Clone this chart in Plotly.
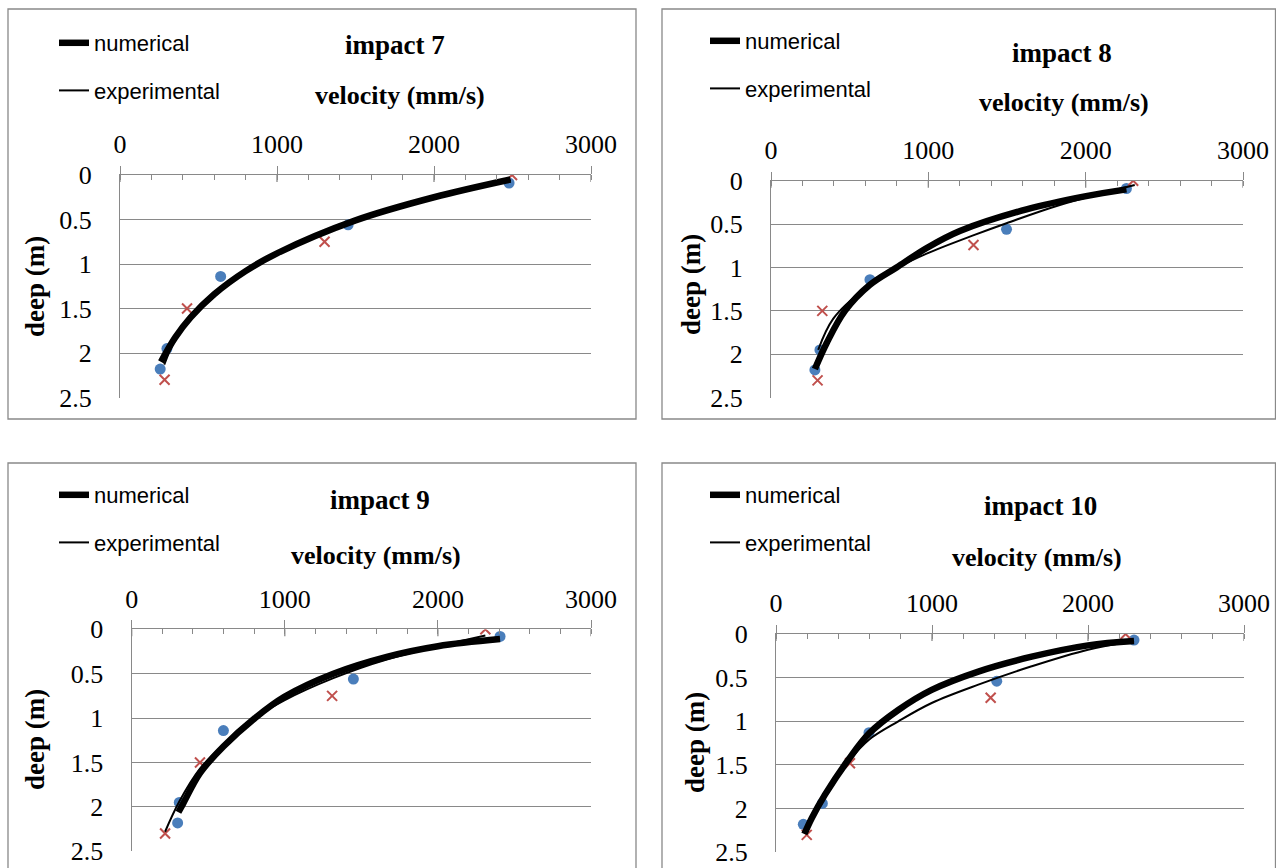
import plotly.graph_objects as go

# ---------------- data ----------------
TITLES = ["impact 7", "impact 8", "impact 9", "impact 10"]
X_TITLE = "velocity (mm/s)"
Y_TITLE = "deep (m)"
SERIES_NAMES = ["numerical", "experimental"]
X_TICKS = [0, 1000, 2000, 3000]
Y_TICKS = [0, 0.5, 1, 1.5, 2, 2.5]

# impact 7
i7_num_pts_v = [2478, 1453, 641, 299, 256]
i7_num_pts_d = [0.09, 0.56, 1.14, 1.95, 2.18]
i7_exp_pts_v = [2497, 1303, 427, 284]
i7_exp_pts_d = [0.0, 0.75, 1.50, 2.30]
i7_num_line_v = [2487, 2000, 1500, 1000, 800, 600, 450, 350, 261]
i7_num_line_d = [0.05, 0.25, 0.51, 0.88, 1.08, 1.34, 1.60, 1.83, 2.10]
i7_exp_line_v = [2490, 2000, 1500, 1000, 800, 600, 450, 350, 282]
i7_exp_line_d = [0.06, 0.26, 0.52, 0.89, 1.09, 1.35, 1.62, 1.86, 2.13]

# impact 8
i8_num_pts_v = [2259, 1497, 629, 311, 279]
i8_num_pts_d = [0.09, 0.56, 1.14, 1.95, 2.18]
i8_exp_pts_v = [2302, 1287, 326, 296]
i8_exp_pts_d = [0.0, 0.74, 1.50, 2.30]
i8_num_line_v = [2259, 1994, 1624, 1200, 995, 798, 629, 470, 354, 279]
i8_num_line_d = [0.10, 0.18, 0.33, 0.58, 0.77, 1.00, 1.20, 1.50, 1.87, 2.17]
i8_exp_line_v = [2312, 1836, 1497, 1285, 989, 819, 600, 396, 300]
i8_exp_line_d = [0.05, 0.28, 0.49, 0.63, 0.84, 0.99, 1.24, 1.59, 1.95]

# impact 9
i9_num_pts_v = [2406, 1448, 599, 311, 300]
i9_num_pts_d = [0.08, 0.56, 1.14, 1.95, 2.18]
i9_exp_pts_v = [2310, 1309, 446, 218]
i9_exp_pts_d = [0.0, 0.75, 1.50, 2.30]
i9_num_line_v = [2406, 2000, 1666, 1317, 997, 805, 599, 446, 337, 305]
i9_num_line_d = [0.11, 0.19, 0.31, 0.50, 0.76, 1.00, 1.32, 1.62, 1.96, 2.06]
i9_exp_line_v = [2310, 1666, 1317, 997, 795, 599, 446, 311, 218]
i9_exp_line_d = [0.07, 0.34, 0.55, 0.80, 1.01, 1.30, 1.57, 1.94, 2.28]

# impact 10
i10_num_pts_v = [2295, 1415, 596, 297, 175]
i10_num_pts_d = [0.07, 0.54, 1.13, 1.94, 2.18]
i10_exp_pts_v = [2241, 1376, 474, 197]
i10_exp_pts_d = [0.0, 0.73, 1.48, 2.30]
i10_num_line_v = [2295, 2000, 1639, 1297, 998, 784, 596, 464, 314, 229, 182]
i10_num_line_d = [0.08, 0.13, 0.26, 0.43, 0.64, 0.87, 1.14, 1.44, 1.84, 2.11, 2.29]
i10_exp_line_v = [2295, 2000, 1639, 1297, 998, 784, 596, 464, 314, 229, 190]
i10_exp_line_d = [0.08, 0.18, 0.37, 0.58, 0.79, 1.00, 1.21, 1.46, 1.84, 2.11, 2.27]

PANELS = [
    (i7_num_pts_v, i7_num_pts_d, i7_exp_pts_v, i7_exp_pts_d,
     i7_num_line_v, i7_num_line_d, i7_exp_line_v, i7_exp_line_d),
    (i8_num_pts_v, i8_num_pts_d, i8_exp_pts_v, i8_exp_pts_d,
     i8_num_line_v, i8_num_line_d, i8_exp_line_v, i8_exp_line_d),
    (i9_num_pts_v, i9_num_pts_d, i9_exp_pts_v, i9_exp_pts_d,
     i9_num_line_v, i9_num_line_d, i9_exp_line_v, i9_exp_line_d),
    (i10_num_pts_v, i10_num_pts_d, i10_exp_pts_v, i10_exp_pts_d,
     i10_num_line_v, i10_num_line_d, i10_exp_line_v, i10_exp_line_d),
]

# ---------------- layout geometry (pixels of the 1276x868 page) ----------------
W, H = 1276, 868
# plot area: left, right, top, bottom
PLOT_PX = [(120, 591, 175, 397.5), (771, 1243, 180.7, 397.7),
           (131.7, 591, 629.3, 851.3), (776, 1244, 634, 852.3)]
# panel frames: left, right, top, bottom
FRAME_PX = [(8, 636, 9, 419), (662, 1275.5, 9, 419),
            (8, 636, 463, 880), (662, 1275.5, 463, 880)]
TITLE_PX = [(395, 45), (1062, 53), (380, 500), (1040, 506)]
XTITLE_PX = [(400, 96), (1064, 103), (376, 555), (1037, 557)]
YTITLE_PX = [(35, 287), (691, 285), (35, 740), (695, 743)]
LEGEND_PX = [(54, 22), (705, 20), (54, 474), (705, 474)]

GRAY = "#898989"
SERIF = "Liberation Serif"
SANS = "Liberation Sans"

def fx(px):
    return px / W

def fy(py):
    return 1 - py / H

fig = go.Figure()
shapes = []
annotations = []
layout = {}

for i, data in enumerate(PANELS):
    k = i + 1
    xs = "x" if k == 1 else f"x{k}"
    ys = "y" if k == 1 else f"y{k}"
    lg = "legend" if k == 1 else f"legend{k}"
    (np_v, np_d, ep_v, ep_d, nl_v, nl_d, el_v, el_d) = data

    fig.add_trace(go.Scatter(x=np_v, y=np_d, mode="markers", xaxis=xs, yaxis=ys,
                             marker=dict(color="#4A7EBB", size=11, symbol="circle"),
                             showlegend=False, name="numerical points"))
    fig.add_trace(go.Scatter(x=ep_v, y=ep_d, mode="markers", xaxis=xs, yaxis=ys,
                             marker=dict(color="#C0504D", size=10, symbol="x-thin",
                                         line=dict(color="#C0504D", width=2)),
                             showlegend=False, name="experimental points"))
    fig.add_trace(go.Scatter(x=nl_v, y=nl_d, mode="lines", xaxis=xs, yaxis=ys,
                             line=dict(color="black", width=6.5, shape="spline", smoothing=1.0),
                             name=SERIES_NAMES[0], legend=lg, legendgroup=f"n{k}"))
    fig.add_trace(go.Scatter(x=el_v, y=el_d, mode="lines", xaxis=xs, yaxis=ys,
                             line=dict(color="black", width=2, shape="spline", smoothing=1.0),
                             name=SERIES_NAMES[1], legend=lg, legendgroup=f"e{k}"))

    l, r, t, b = PLOT_PX[i]
    xdom = [fx(l), fx(r)]
    ydom = [fy(b), fy(t)]
    axis_font = dict(family=SERIF, size=26, color="black")
    layout["xaxis" if k == 1 else f"xaxis{k}"] = dict(
        domain=xdom, range=[0, 3000], side="top", anchor=ys, automargin=False,
        tickvals=X_TICKS, ticks="outside", ticklen=8, tickwidth=1.3, tickcolor=GRAY,
        showline=True, linecolor=GRAY, linewidth=1.3,
        showgrid=False, zeroline=False, tickfont=axis_font, ticklabelstandoff=2,
        minor=dict(dtick=200, tick0=0, ticks="inside", ticklen=5, tickwidth=1.3,
                   tickcolor=GRAY, showgrid=False),
        fixedrange=True,
    )
    layout["yaxis" if k == 1 else f"yaxis{k}"] = dict(
        domain=ydom, range=[2.5, 0], anchor=xs, automargin=False,
        tickvals=Y_TICKS, ticks="", showline=True, linecolor=GRAY, linewidth=1.3,
        showgrid=True, gridcolor=GRAY, gridwidth=1.3, zeroline=False,
        tickfont=axis_font, ticklabelstandoff=22, fixedrange=True,
    )

    # downward part of the major ticks (they cross the axis line)
    plot_h = b - t
    for tv in X_TICKS:
        shapes.append(dict(type="line", xref=xs, yref=f"{ys} domain",
                           x0=tv, x1=tv, y0=1, y1=1 - 7 / plot_h,
                           line=dict(color=GRAY, width=1.3)))

    # panel frame
    fl, fr, ft, fb = FRAME_PX[i]
    shapes.append(dict(type="rect", xref="paper", yref="paper",
                       x0=fx(fl), x1=fx(fr), y0=fy(fb), y1=fy(ft),
                       line=dict(color=GRAY, width=1.3), layer="below"))

    tx, ty = TITLE_PX[i]
    annotations.append(dict(text=f"<b>{TITLES[i]}</b>", x=fx(tx), y=fy(ty),
                            xref="paper", yref="paper", showarrow=False,
                            xanchor="center", yanchor="middle",
                            font=dict(family=SERIF, size=27, color="black")))
    vx, vy = XTITLE_PX[i]
    annotations.append(dict(text=f"<b>{X_TITLE}</b>", x=fx(vx), y=fy(vy),
                            xref="paper", yref="paper", showarrow=False,
                            xanchor="center", yanchor="middle",
                            font=dict(family=SERIF, size=26, color="black")))
    dx, dy = YTITLE_PX[i]
    annotations.append(dict(text=f"<b>{Y_TITLE}</b>", x=fx(dx), y=fy(dy),
                            xref="paper", yref="paper", showarrow=False, textangle=-90,
                            xanchor="center", yanchor="middle",
                            font=dict(family=SERIF, size=27, color="black")))

    lx, ly = LEGEND_PX[i]
    layout[lg] = dict(x=fx(lx), y=fy(ly), xanchor="left", yanchor="top",
                      bgcolor="rgba(0,0,0,0)", borderwidth=0,
                      font=dict(family=SANS, size=22, color="black"),
                      traceorder="grouped", tracegroupgap=16)

fig.update_layout(
    template="none",
    width=W, height=H,
    margin=dict(l=0, r=0, t=0, b=0, autoexpand=False),
    paper_bgcolor="white", plot_bgcolor="white",
    shapes=shapes, annotations=annotations,
    **layout,
)

fig.write_html(
    "out.html",
    config={"displayModeBar": False},
    post_script="document.body.style.margin='0px';document.body.style.overflow='hidden';",
)
